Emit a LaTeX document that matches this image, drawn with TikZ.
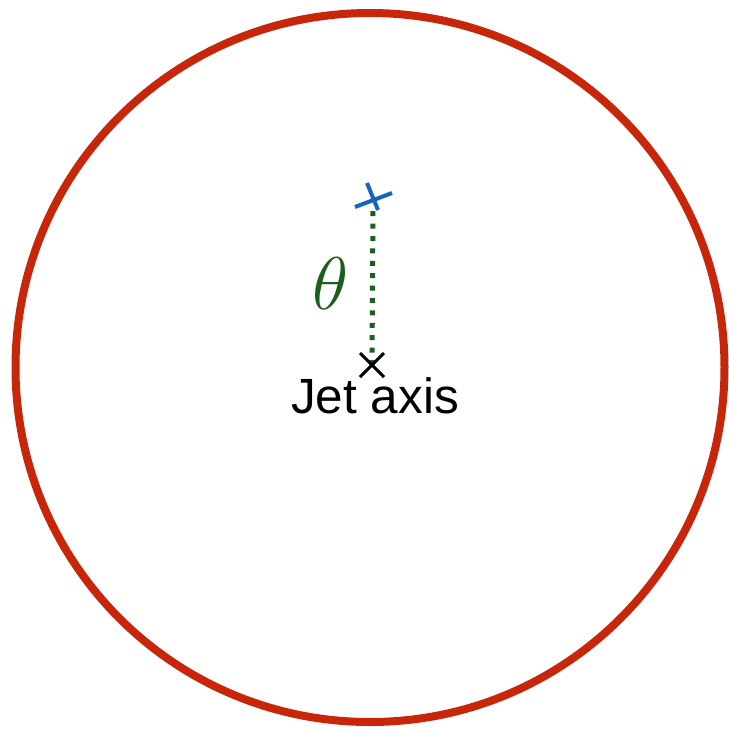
\documentclass[tikz,border=0pt]{standalone}
\usepackage{fontspec}
\usepackage{xcolor}
\usepackage{graphicx}
\usepackage{tikz}
\newfontfamily\labelfont{Liberation Sans}
\definecolor{conered}{HTML}{C8260A}
\definecolor{subjetblue}{HTML}{1565C0}
\definecolor{thetagreen}{HTML}{1B5E20}

\begin{document}
\begin{tikzpicture}[x=1pt, y=-1pt,
  cone/.style={draw=conered, line width=8pt},
  jetmark/.style={draw=black, line width=3pt},
  subjet/.style={draw=subjetblue, line width=4pt},
  thetaline/.style={draw=thetagreen, line width=5pt, dash pattern=on 5pt off 7.4pt},
  axislabel/.style={font=\labelfont\fontsize{49.5}{54}\selectfont, inner sep=0pt, anchor=base},
  anglelabel/.style={text=thetagreen, font=\Huge, inner sep=0pt},
]
\useasboundingbox (0,0) rectangle (729,729);
% jet cone
\coordinate (centre) at (370,367.5);
\draw[cone] (centre) circle[radius=354.5];
% jet axis and subjet positions
\coordinate (jet) at (372,365);
\coordinate (sj) at (373,199);
% angle between them
\draw[thetaline, shorten >=11pt] (jet) -- (sj);
\node[anglelabel] (theta) at (331,284) {\scalebox{3}{$\theta$}};
% markers
\draw[jetmark] (jet) ++(-12,-12) -- ++(24,24);
\draw[jetmark] (jet) ++(-12,12) -- ++(24,-24);
\draw[subjet] (sj) ++(-18,8) -- ++(37,-14);
\draw[subjet] (sj) ++(-6,-16) -- ++(11,27);
\node[axislabel] (jetlabel) at (375,413) {Jet axis};
\end{tikzpicture}
\end{document}
